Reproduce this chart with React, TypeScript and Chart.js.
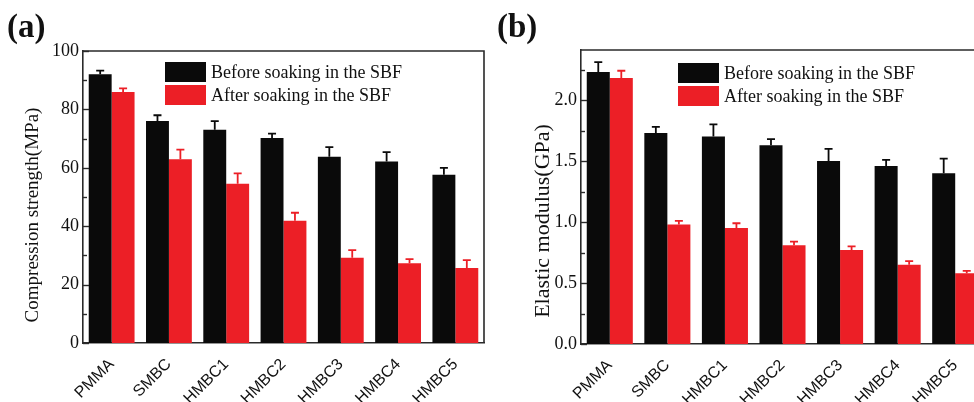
import React, { useEffect, useRef } from 'react';
import { Chart, registerables } from 'chart.js';

Chart.register(...registerables);

const SERIF = '"Liberation Serif", "Times New Roman", serif';
const SANS = '"Liberation Sans", Arial, sans-serif';

const categories = ['PMMA', 'SMBC', 'HMBC1', 'HMBC2', 'HMBC3', 'HMBC4', 'HMBC5'];
const seriesLabels = ['Before soaking in the SBF', 'After soaking in the SBF'];

const strengthBefore = [92, 76, 73, 70.2, 63.8, 62.2, 57.6];
const strengthBeforeErr = [1.3, 2.0, 3.0, 1.5, 3.3, 3.2, 2.4];
const strengthAfter = [86, 62.9, 54.5, 41.9, 29.2, 27.3, 25.7];
const strengthAfterErr = [1.2, 3.3, 3.6, 2.7, 2.6, 1.4, 2.7];

const modulusBefore = [2.23, 1.73, 1.7, 1.63, 1.5, 1.46, 1.4];
const modulusBeforeErr = [0.08, 0.05, 0.1, 0.05, 0.1, 0.05, 0.12];
const modulusAfter = [2.18, 0.98, 0.95, 0.81, 0.77, 0.65, 0.58];
const modulusAfterErr = [0.06, 0.03, 0.04, 0.03, 0.03, 0.03, 0.02];

const BLACK = '#0a0a0a';
const RED = '#ec1f26';
const AXIS = '#2a2a2a';

const errorBarPlugin = {
  id: 'errorBars',
  afterDatasetsDraw(chart: any) {
    const ctx = chart.ctx;
    const yScale = chart.scales.y;
    chart.data.datasets.forEach((ds: any, di: number) => {
      const meta = chart.getDatasetMeta(di);
      const errs: number[] = ds.errors || [];
      meta.data.forEach((bar: any, i: number) => {
        const v = ds.data[i];
        const yBar = yScale.getPixelForValue(v);
        const yTop = yScale.getPixelForValue(v + errs[i]);
        ctx.save();
        ctx.strokeStyle = ds.backgroundColor;
        ctx.lineWidth = 1.8;
        ctx.beginPath();
        ctx.moveTo(bar.x, yBar);
        ctx.lineTo(bar.x, yTop);
        ctx.moveTo(bar.x - 4, yTop);
        ctx.lineTo(bar.x + 4, yTop);
        ctx.stroke();
        ctx.restore();
      });
    });
  },
};

const framePlugin = {
  id: 'frame',
  afterDraw(chart: any, _args: any, opts: any) {
    const ctx = chart.ctx;
    const a = chart.chartArea;
    const y = chart.scales.y;
    ctx.save();
    // top and right box lines
    ctx.strokeStyle = AXIS;
    ctx.lineWidth = 1.6;
    ctx.beginPath();
    ctx.moveTo(a.left, a.top);
    ctx.lineTo(a.right, a.top);
    ctx.lineTo(a.right, a.bottom);
    ctx.stroke();
    // inward ticks (major + minor)
    ctx.lineWidth = 1.4;
    const minor = opts.minorStep;
    const major = opts.majorStep;
    const n = Math.floor((y.max - y.min) / minor + 1e-6);
    for (let k = 0; k <= n; k++) {
      const v = y.min + k * minor;
      const r = v / major;
      const isMajor = Math.abs(r - Math.round(r)) < 1e-6;
      const py = Math.round(y.getPixelForValue(v)) + 0.5;
      ctx.beginPath();
      ctx.moveTo(a.left, py);
      ctx.lineTo(a.left + (isMajor ? 6 : 4), py);
      ctx.stroke();
    }
    // legend inside plot area
    const bx = a.left + opts.legendDx;
    let by = a.top + opts.legendDy;
    const bw = 41;
    const bh = 20;
    ctx.font = `18px ${SERIF}`;
    ctx.textBaseline = 'middle';
    ctx.textAlign = 'left';
    chart.data.datasets.forEach((ds: any) => {
      ctx.fillStyle = ds.backgroundColor;
      ctx.fillRect(bx, by, bw, bh);
      ctx.fillStyle = '#111';
      ctx.fillText(ds.label, bx + bw + 5, by + bh / 2 + 1);
      by += bh + 3;
    });
    // y-axis title
    ctx.save();
    ctx.translate(opts.titleX, (a.top + a.bottom) / 2 + opts.titleDy);
    ctx.rotate(-Math.PI / 2);
    ctx.font = `${opts.titleSize}px ${SERIF}`;
    ctx.textAlign = 'center';
    ctx.textBaseline = 'middle';
    ctx.fillStyle = '#111';
    ctx.fillText(opts.title, 0, 0);
    ctx.restore();
    ctx.restore();
  },
};

type PanelProps = {
  before: number[];
  beforeErr: number[];
  after: number[];
  afterErr: number[];
  yMax: number;
  major: number;
  minor: number;
  decimals: number;
  width: number;
  padTop: number;
  padRight: number;
  yWidth: number;
  xHeight: number;
  legendDx: number;
  legendDy: number;
  title: string;
  titleX: number;
  titleDy: number;
  titleSize: number;
};

function Panel(p: PanelProps) {
  const ref = useRef<HTMLCanvasElement | null>(null);
  useEffect(() => {
    if (!ref.current) return;
    const chart = new Chart(ref.current, {
      type: 'bar',
      data: {
        labels: categories,
        datasets: [
          {
            label: seriesLabels[0],
            data: p.before,
            backgroundColor: BLACK,
            borderWidth: 0,
            errors: p.beforeErr,
          } as any,
          {
            label: seriesLabels[1],
            data: p.after,
            backgroundColor: RED,
            borderWidth: 0,
            errors: p.afterErr,
          } as any,
        ],
      },
      options: {
        responsive: false,
        animation: false,
        devicePixelRatio: 1,
        layout: { padding: { left: 0, top: p.padTop, right: p.padRight, bottom: 0 } },
        datasets: { bar: { categoryPercentage: 0.8, barPercentage: 1.0 } },
        plugins: {
          legend: { display: false },
          tooltip: { enabled: false },
          frame: {
            minorStep: p.minor,
            majorStep: p.major,
            legendDx: p.legendDx,
            legendDy: p.legendDy,
            title: p.title,
            titleX: p.titleX,
            titleDy: p.titleDy,
            titleSize: p.titleSize,
          },
        } as any,
        scales: {
          x: {
            type: 'category',
            offset: true,
            grid: { display: false, drawTicks: false },
            border: { display: true, color: AXIS, width: 1.6 },
            ticks: {
              minRotation: 45,
              maxRotation: 45,
              autoSkip: false,
              padding: 12,
              color: '#111',
              font: { family: SANS, size: 16 },
            },
            afterFit: (s: any) => {
              s.height = p.xHeight;
            },
          },
          y: {
            min: 0,
            max: p.yMax,
            grid: { display: false, drawTicks: false },
            border: { display: true, color: AXIS, width: 1.6 },
            ticks: {
              stepSize: p.major,
              includeBounds: false,
              padding: 4,
              color: '#111',
              font: { family: SERIF, size: 18 },
              callback: (v: any) => Number(v).toFixed(p.decimals),
            },
            afterFit: (s: any) => {
              s.width = p.yWidth;
            },
          },
        },
      },
      plugins: [errorBarPlugin, framePlugin],
    });
    return () => chart.destroy();
  }, []);
  return (
    <canvas
      ref={ref}
      width={p.width}
      height={402}
      style={{ width: p.width, height: 402, display: 'block' }}
    />
  );
}

const labelStyle: React.CSSProperties = {
  position: 'absolute',
  top: 10,
  fontFamily: SERIF,
  fontWeight: 'bold',
  fontSize: 33,
  lineHeight: '33px',
  color: '#111',
  margin: 0,
};

export default function App() {
  return (
    <div
      style={{
        position: 'fixed',
        left: 0,
        top: 0,
        width: 974,
        height: 402,
        overflow: 'hidden',
        background: '#fff',
      }}
    >
      <div style={{ position: 'absolute', left: 0, top: 0 }}>
        <Panel
          before={strengthBefore}
          beforeErr={strengthBeforeErr}
          after={strengthAfter}
          afterErr={strengthAfterErr}
          yMax={100}
          major={20}
          minor={10}
          decimals={0}
          width={490}
          padTop={51}
          padRight={6}
          yWidth={83}
          xHeight={59}
          legendDx={82}
          legendDy={11}
          title="Compression strength(MPa)"
          titleX={33}
          titleDy={18}
          titleSize={19}
        />
      </div>
      <div style={{ position: 'absolute', left: 490, top: 0 }}>
        <Panel
          before={modulusBefore}
          beforeErr={modulusBeforeErr}
          after={modulusAfter}
          afterErr={modulusAfterErr}
          yMax={2.41}
          major={0.5}
          minor={0.25}
          decimals={1}
          width={510}
          padTop={50}
          padRight={16}
          yWidth={91}
          xHeight={58}
          legendDx={97}
          legendDy={13}
          title="Elastic modulus(GPa)"
          titleX={53}
          titleDy={24}
          titleSize={22}
        />
      </div>
      <div style={{ ...labelStyle, left: 7 }}>(a)</div>
      <div style={{ ...labelStyle, left: 497 }}>(b)</div>
    </div>
  );
}
